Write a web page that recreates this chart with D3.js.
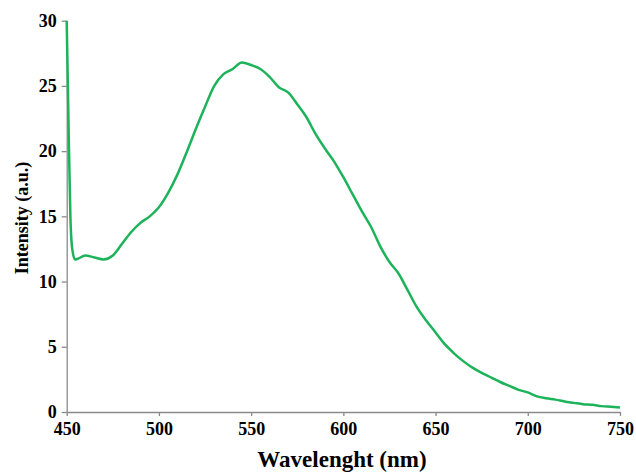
<!DOCTYPE html>
<html>
<head>
<meta charset="utf-8">
<script src="https://cdn.jsdelivr.net/npm/d3@7"></script>
<style>
  body { margin: 0; background: #fff; }
  svg text { font-family: "Liberation Serif", "Times New Roman", serif; font-weight: bold; }
</style>
</head>
<body>
<svg width="636" height="473"></svg>
<script>
"use strict";
// spectrum
var wavelength = [450, 451, 452, 453, 454.5, 456, 460, 465, 470, 475, 480, 485, 490, 495,
  500, 505, 510, 515, 520, 525, 530, 535, 540, 545, 550, 555, 560, 565, 570, 575, 580,
  585, 590, 595, 600, 605, 610, 615, 620, 625, 630, 635, 640, 645, 650, 655, 660, 665,
  670, 675, 680, 685, 690, 695, 700, 705, 710, 715, 720, 725, 730, 735, 740, 745, 750];
var intensity = [30, 22, 15, 12.5, 11.7, 11.75, 12.0, 11.85, 11.7, 12.0, 12.9, 13.8, 14.5, 15.0,
  15.7, 16.8, 18.2, 19.9, 21.7, 23.4, 25.0, 25.9, 26.3, 26.8, 26.6, 26.3, 25.7, 24.9, 24.5, 23.6, 22.6,
  21.3, 20.2, 19.2, 18.0, 16.7, 15.4, 14.2, 12.7, 11.5, 10.6, 9.3, 8.0, 7.0, 6.1, 5.2, 4.5, 3.9,
  3.4, 3.0, 2.65, 2.3, 2.0, 1.7, 1.5, 1.2, 1.05, 0.95, 0.8, 0.7, 0.6, 0.55, 0.45, 0.4, 0.35];
var xTicks = [450, 500, 550, 600, 650, 700, 750];
var yTicks = [0, 5, 10, 15, 20, 25, 30];

var data = wavelength.map((w, i) => ({x: w, y: intensity[i]}));

var svg = d3.select("svg");
var x = d3.scaleLinear().domain([450, 750]).range([66.7, 620]);
var y = d3.scaleLinear().domain([0, 30]).range([412, 20.7]);

var gx = svg.append("g")
  .attr("transform", "translate(0," + y(0) + ")")
  .call(d3.axisBottom(x).tickValues(xTicks).tickSize(4).tickSizeOuter(0).tickPadding(6));
var gy = svg.append("g")
  .attr("transform", "translate(" + x(450) + ",0)")
  .call(d3.axisLeft(y).tickValues(yTicks).tickSize(5).tickSizeOuter(0).tickPadding(5));

[gx, gy].forEach(g => {
  g.select(".domain").attr("stroke", "#8a8a8a").attr("stroke-width", 1.3);
  g.selectAll(".tick line").attr("stroke", "#8a8a8a").attr("stroke-width", 1.3);
  g.selectAll(".tick text").attr("fill", "#000").style("font-size", "18px").style("font-family", "Liberation Serif").style("font-weight", "bold");
});

svg.append("path")
  .datum(data)
  .attr("fill", "none")
  .attr("stroke", "#1db35a")
  .attr("stroke-width", 2.5)
  .attr("d", d3.line().x(d => x(d.x)).y(d => y(d.y)).curve(d3.curveMonotoneX));

svg.append("text")
  .attr("x", 342)
  .attr("y", 467)
  .attr("text-anchor", "middle")
  .style("font-size", "23px")
  .text("Wavelenght (nm)");

svg.append("text")
  .attr("transform", "translate(28,218) rotate(-90)")
  .attr("text-anchor", "middle")
  .style("font-size", "18px")
  .text("Intensity (a.u.)");
</script>
</body>
</html>
